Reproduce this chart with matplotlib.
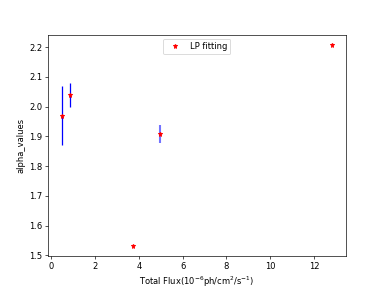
import matplotlib
matplotlib.use("Agg")
import matplotlib.pyplot as plt

flux = [0.46, 0.86, 3.73, 4.94, 12.83]
alpha = [1.97, 2.04, 1.531, 1.909, 2.208]
alpha_err = [0.10, 0.04, 0.0, 0.03, 0.0]
err_alpha = [1.0, 1.0, 1.0, 0.55, 1.0]
err_width = [1.5, 1.5, 1.5, 2.5, 1.5]

plt.figure(figsize=(6.4, 4.8), dpi=60)
for i in range(len(flux)):
    if alpha_err[i] > 0:
        plt.errorbar(flux[i], alpha[i], yerr=alpha_err[i], fmt='none',
                     ecolor='b', alpha=err_alpha[i], elinewidth=err_width[i])
plt.plot(flux, alpha, 'r*', label='LP fitting')

plt.xlabel(r'Total Flux$(10^{-6}$ph/cm$^2$/s$^{-1})$')
plt.ylabel('alpha_values')
plt.legend(loc='upper center')
plt.savefig('out.png', dpi=60)
